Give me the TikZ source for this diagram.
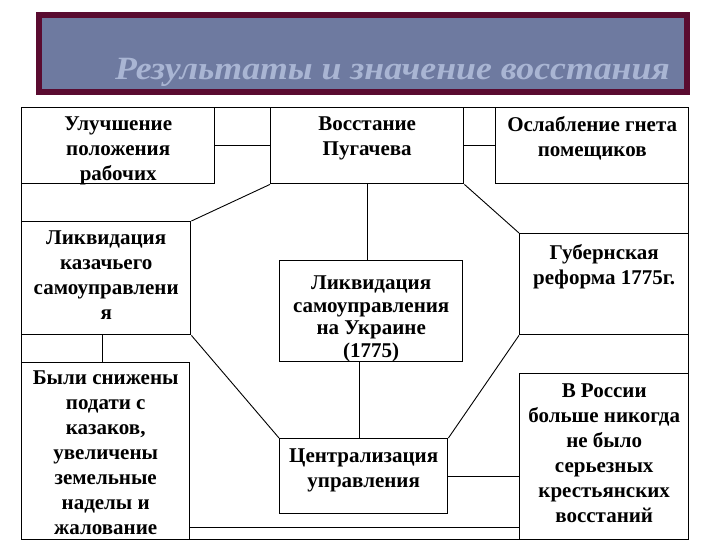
\documentclass[tikz,border=0pt]{standalone}
\usepackage{fontspec}
\setmainfont{Liberation Serif}
\usetikzlibrary{positioning}
\definecolor{bannerfill}{HTML}{6E7AA0}
\definecolor{bannerrim}{HTML}{5A0B30}
\definecolor{titletext}{HTML}{A9B5D3}
\newcommand{\boxfont}{\fontsize{21}{25}\bfseries\selectfont}
\tikzset{
  box/.style={draw, line width=1.4pt, anchor=north west, inner sep=0pt},
  lbl/.style={font=\boxfont, align=center, inner sep=0pt},
  con/.style={line width=0.9pt},
  frameline/.style={line width=0.9pt},
}

\begin{document}
\begin{tikzpicture}[x=1pt, y=-1pt]
\useasboundingbox (0,0) rectangle (720,540);

% ---- Title banner ----
\node[draw=bannerrim, line width=6pt, fill=bannerfill, anchor=north west,
      minimum width=648pt, minimum height=77pt, inner sep=0pt] (banner) at (36,12) {};
\node[anchor=base east, text=titletext, inner sep=0pt,
      font=\fontsize{32.5}{36}\bfseries\itshape\selectfont] (title) at (670,80)
  {\scalebox{1.1}[1]{Результаты и значение восстания}};

% ---- Outer frame ----
\coordinate (fnw) at (21,107);
\coordinate (fse) at (688,539);
\draw[frameline] (fnw) rectangle (fse);

% ---- Boxes ----
\node[box, minimum width=193pt, minimum height=76pt] (ul) at (21,107) {};
\node[box, minimum width=193pt, minimum height=76pt] (pug) at (270,107) {};
\node[box, minimum width=193pt, minimum height=76pt] (osl) at (495,107) {};
\node[box, minimum width=169pt, minimum height=113pt] (kaz) at (21,221) {};
\node[box, minimum width=183pt, minimum height=101pt] (ukr) at (279,260) {};
\node[box, minimum width=169pt, minimum height=101pt] (gub) at (519,233) {};
\node[box, minimum width=168pt, minimum height=178pt] (nal) at (21,362) {};
\node[box, minimum width=169pt, minimum height=168pt] (ros) at (519,373) {};
\node[box, minimum width=168pt, minimum height=75pt] (centr) at (279,438) {};

% ---- Texts ----
\node[lbl, below=10pt of ul.north] (tul) {Улучшение\\положения\\рабочих};
\node[lbl, below=10pt of pug.north] (tpug) {Восстание\\Пугачева};
\node[lbl, below=9pt of osl.north] (tosl) {Ослабление гнета\\помещиков};
\node[lbl, below=10pt of kaz.north] (tkaz) {Ликвидация\\казачьего\\самоуправлени\\я};
\node[lbl, below=16pt of ukr.north, font=\fontsize{21}{22.5}\bfseries\selectfont] (tukr)
  {Ликвидация\\самоуправления\\на Украине\\(1775)};
\node[lbl, below=11pt of gub.north] (tgub) {Губернская\\реформа 1775г.};
\node[lbl, below=9pt of nal.north] (tnal)
  {Были снижены\\подати с\\казаков,\\увеличены\\земельные\\наделы и\\жалование};
\node[lbl, below=11pt of ros.north] (tros)
  {В России\\больше никогда\\не было\\серьезных\\крестьянских\\восстаний};
\node[lbl, below=11pt of centr.north] (tcentr) {Централизация\\управления};

% ---- Connectors ----
\draw[con] (ul.east) -- (pug.west);
\draw[con] (pug.east) -- (osl.west);
\draw[con] (pug.south) -- (pug.south |- ukr.north);
\draw[con] (pug.south west) -- (kaz.north east);
\draw[con] (pug.south east) -- (gub.north west);
\draw[con] ([xshift=-4pt]kaz.south) -- ([xshift=-4pt]kaz.south |- nal.north);
\draw[con] (kaz.south east) -- (centr.north west);
\draw[con] (gub.south west) -- (centr.north east);
\draw[con] ([xshift=-4pt]centr.north) -- ([xshift=-4pt]centr.north |- ukr.south);
\draw[con] (centr.east) -- (centr.east -| ros.west);
\draw[con] ([yshift=14pt]nal.south east) -- ([yshift=14pt]nal.south east -| ros.west);

\end{tikzpicture}
\end{document}
